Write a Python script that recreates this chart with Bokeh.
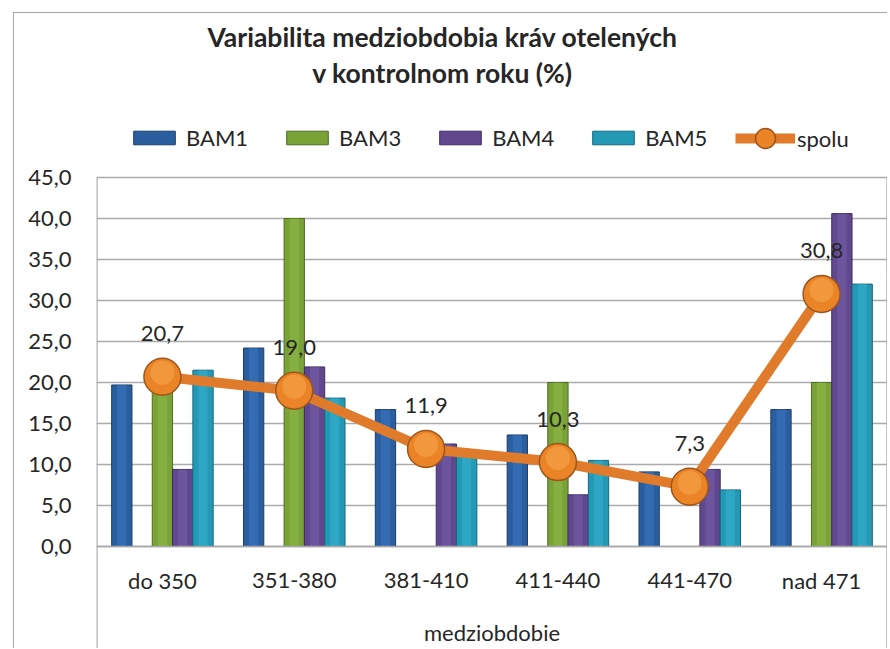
from bokeh.plotting import figure
from bokeh.models import Range1d, FixedTicker, Span, Label, Legend, LegendItem, ColumnDataSource
from bokeh.embed import file_html
from bokeh.resources import INLINE
from bokeh.core.properties import value

# ---------------- data ----------------
categories = ["do 350", "351-380", "381-410", "411-440", "441-470", "nad 471"]
bam1 = [19.7, 24.2, 16.7, 13.6, 9.1, 16.7]
bam3 = [20.0, 40.0, 0.0, 20.0, 0.0, 20.0]
bam4 = [9.4, 21.9, 12.5, 6.3, 9.4, 40.6]
bam5 = [21.5, 18.1, 11.0, 10.5, 6.9, 32.0]
spolu = [20.7, 19.0, 11.9, 10.3, 7.3, 30.8]
spolu_labels = ["20,7", "19,0", "11,9", "10,3", "7,3", "30,8"]
series_names = ["BAM1", "BAM3", "BAM4", "BAM5"]
y_ticks = [0, 5, 10, 15, 20, 25, 30, 35, 40, 45]
y_tick_labels = ["0,0", "5,0", "10,0", "15,0", "20,0", "25,0", "30,0", "35,0", "40,0", "45,0"]
title_lines = ["Variabilita medziobdobia kráv otelených", "v kontrolnom roku (%)"]
x_title = "medziobdobie"

# ---------------- layout constants (page px) ----------------
FONT = "Lato"
W, H = 874, 636
ORIGIN_X, ORIGIN_Y = 14, 13
FRAME_L, FRAME_R = 96, 887
TOP45_Y = 177
ZERO_Y = 546
PX_PER_UNIT = (ZERO_Y - TOP45_Y) / 45.0
y_max = (ZERO_Y - ORIGIN_Y) / PX_PER_UNIT
y_min = -(ORIGIN_Y + H - ZERO_Y) / PX_PER_UNIT
FRAME_BOTTOM = ORIGIN_Y + H


def page_y(py):
    return (ZERO_Y - py) / PX_PER_UNIT


n = len(categories)


def page_x(px):
    return (px - FRAME_L) / (FRAME_R - FRAME_L) * n


xc = [i + 0.5 for i in range(n)]
bw = 0.154
offsets = {"BAM1": -2 * bw, "BAM3": 0.0, "BAM4": bw, "BAM5": 2 * bw}
fills = {"BAM1": "#2A5E9F", "BAM3": "#79A237", "BAM4": "#61488E", "BAM5": "#2499B6"}
lights = {"BAM1": "#3C78C2", "BAM3": "#8FBA48", "BAM4": "#7660A8", "BAM5": "#35B2CE"}
edges = {"BAM1": "#1B3D6B", "BAM3": "#4E6B20", "BAM4": "#3E2C62", "BAM5": "#17687B"}
vals = {"BAM1": bam1, "BAM3": bam3, "BAM4": bam4, "BAM5": bam5}

p = figure(width=W, height=H, output_backend="svg", toolbar_location=None,
           x_range=Range1d(0, n), y_range=Range1d(y_min, y_max),
           min_border_left=FRAME_L - ORIGIN_X, min_border_top=0,
           min_border_right=W - (FRAME_R - ORIGIN_X), min_border_bottom=0)
p.margin = (12, 0, 0, 13)
p.styles = {"border-left": "1px solid #A6A6A6", "border-top": "1px solid #A6A6A6"}
p.outline_line_color = None
p.background_fill_color = "white"
p.border_fill_color = "white"

p.xaxis.visible = False
p.xgrid.visible = False
p.yaxis.ticker = FixedTicker(ticks=y_ticks)
p.yaxis.major_label_overrides = {t: l for t, l in zip(y_ticks, y_tick_labels)}
p.yaxis.major_label_text_font = FONT
p.yaxis.major_label_text_font_size = "22px"
p.yaxis.major_label_text_color = "#262626"
p.yaxis.major_tick_out = 0
p.yaxis.major_tick_in = 0
p.yaxis.minor_tick_out = 0
p.yaxis.minor_tick_in = 0
p.yaxis.major_label_standoff = 25
p.yaxis.axis_line_color = None
p.ygrid.ticker = FixedTicker(ticks=y_ticks)
p.ygrid.grid_line_color = "#ABABAB"
p.ygrid.grid_line_width = 1.5

# plot-area borders (left / right)
p.segment(x0=[0.003, n - 0.003], y0=[y_min, y_min], x1=[0.003, n - 0.003], y1=[45, 45],
          line_color="#A6A6A6", line_width=1.5)

bar_renderers = {}
for name in series_names:
    src = ColumnDataSource(dict(x=[c + offsets[name] for c in xc], top=vals[name]))
    r = p.vbar(x="x", top="top", width=bw, bottom=0, source=src,
               fill_color=fills[name], line_color=edges[name], line_width=1)
    # bevel-like highlight stripe
    p.vbar(x="x", top="top", width=bw * 0.45, bottom=0, source=src,
           fill_color=lights[name], fill_alpha=0.55, line_color=None)
    bar_renderers[name] = r

p.add_layout(Span(location=0, dimension="width", line_color="#A6A6A6", line_width=1.5))

# spolu line + markers
ssrc = ColumnDataSource(dict(x=xc, y=spolu, lab=spolu_labels,
                             yh=[v + 4 / PX_PER_UNIT for v in spolu]))
line_r = p.line("x", "y", source=ssrc, line_color="#E07B2C", line_width=10)
mark_r = p.scatter("x", "y", source=ssrc, size=37, marker="circle",
                   fill_color="#EA8427", line_color="#9C561B", line_width=1.5)
p.scatter("x", "yh", source=ssrc, size=24, marker="circle",
          fill_color="#F7A54B", fill_alpha=0.6, line_color=None)
p.text("x", "y", text="lab", source=ssrc, y_offset=-43, text_align="center",
       text_baseline="middle", text_font=value(FONT), text_font_size="22px",
       text_color="#262626")

# category labels and axis title
csrc = ColumnDataSource(dict(x=xc, y=[page_y(580)] * n, t=categories))
p.text("x", "y", text="t", source=csrc, text_align="center", text_baseline="middle",
       text_font=value(FONT), text_font_size="22px", text_color="#262626")
p.text(x=[n / 2.0], y=[page_y(632)], text=[x_title], text_align="center",
       text_baseline="middle", text_font=value(FONT), text_font_size="22px",
       text_color="#262626")

# title
for line, py in zip(title_lines, [36, 72]):
    p.add_layout(Label(x=page_x(442), y=page_y(py), text=line,
                       text_align="center", text_baseline="middle", text_font=FONT,
                       text_font_size="26.5px", text_font_style="bold", text_color="#262626"))

# legends (location = offset of legend's bottom-left from the frame's bottom-left)
leg1 = Legend(items=[LegendItem(label=nm, renderers=[bar_renderers[nm]]) for nm in series_names],
              orientation="horizontal", location=(128 - FRAME_L, FRAME_BOTTOM - 151),
              glyph_width=52, glyph_height=17, label_standoff=6, spacing=33,
              padding=0, margin=0, border_line_color=None, background_fill_alpha=0,
              label_text_font=FONT, label_text_font_size="22px", label_text_color="#262626")
leg2 = Legend(items=[LegendItem(label="spolu", renderers=[line_r, mark_r])],
              orientation="horizontal", location=(735 - FRAME_L, FRAME_BOTTOM - 163),
              glyph_width=60, glyph_height=50, label_standoff=2, spacing=0,
              padding=0, margin=0, border_line_color=None, background_fill_alpha=0,
              label_text_font=FONT, label_text_font_size="22px", label_text_color="#262626")
p.add_layout(leg1, "center")
p.add_layout(leg2, "center")

open("out.html", "w").write(file_html(p, INLINE))
